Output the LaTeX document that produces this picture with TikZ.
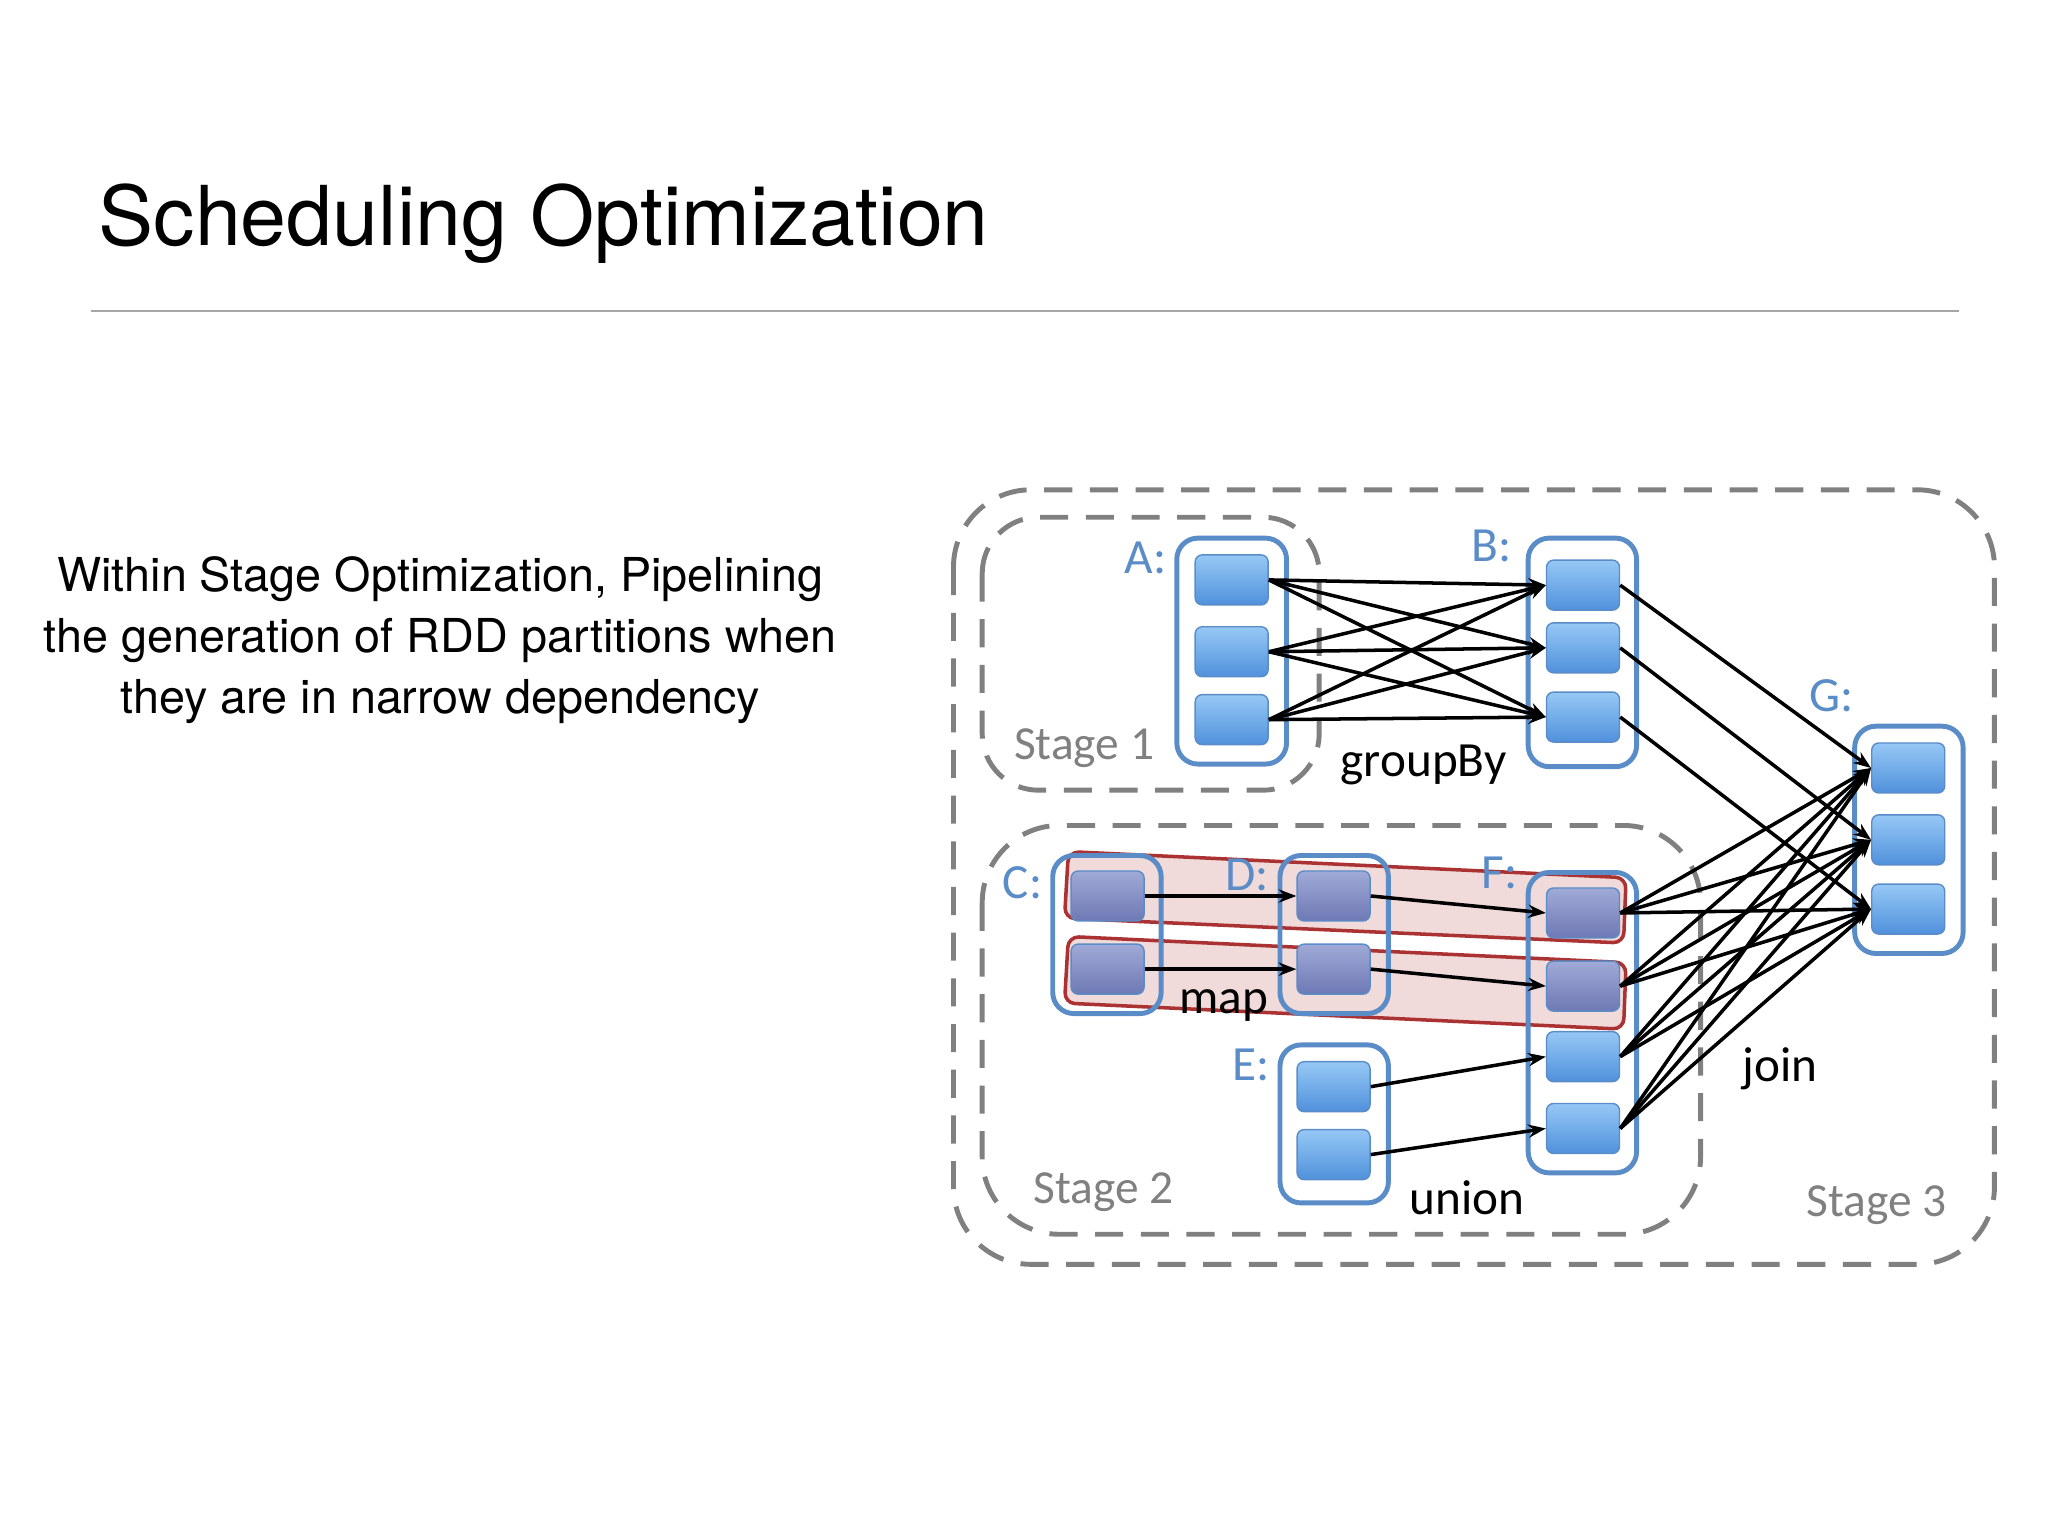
\documentclass[tikz,border=0pt]{standalone}
\usepackage{fontspec}
\setmainfont{TeX Gyre Heros}
\newfontfamily\lblfont{Carlito}
\usetikzlibrary{arrows.meta}
\definecolor{cbox}{RGB}{90,140,200}
\definecolor{ctop}{RGB}{150,200,245}
\definecolor{cbot}{RGB}{80,145,220}
\definecolor{ptop}{RGB}{160,170,215}
\definecolor{pbot}{RGB}{110,120,180}
\definecolor{cred}{RGB}{170,50,50}
\tikzset{
  part/.style={draw=cbox,rounded corners=2pt,minimum width=0.73cm,minimum height=0.5cm,inner sep=0pt,top color=ctop,bottom color=cbot},
  ppart/.style={part,top color=ptop,bottom color=pbot},
  rdd/.style={draw=cbox,line width=1.4pt,rounded corners=6pt},
  stage/.style={draw=gray,line width=1.4pt,dash pattern=on 8pt off 5pt,rounded corners=22pt},
  lbl/.style={font=\lblfont\fontsize{14}{14}\selectfont,text=cbox},
  op/.style={font=\lblfont\fontsize{14}{14}\selectfont},
  st/.style={font=\lblfont\fontsize{13.5}{14}\selectfont,text=gray},
  dep/.style={-{Stealth[length=5pt]},line width=1pt},
}
\begin{document}
\begin{tikzpicture}[x=0.01306cm,y=-0.01306cm]
	\useasboundingbox (0,0) rectangle (1568,1176);
	\node[anchor=base west,inner sep=0pt,font=\fontsize{23.5}{24}\selectfont] (title) at (75,188) {Scheduling Optimization};
	\draw[gray!70] (70,238) -- (1500,238);
	\node[align=center,font=\fontsize{13.3}{17.3}\selectfont] (text) at (337,490) {Within Stage Optimization, Pipelining\\the generation of RDD partitions when\\they are in narrow dependency};

	% stages
	\draw[stage] (730,375) rectangle (1527,968);
	\draw[stage,rounded corners=16pt] (752,396) rectangle (1010,605);
	\draw[stage] (752,632) rectangle (1302,945);
	\node[st] (s1) at (830,573) {Stage 1};
	\node[st] (s2) at (845,913) {Stage 2};
	\node[st] (s3) at (1437,923) {Stage 3};

	% pipelines
	\draw[cred,fill=cred!18,line width=1pt,rounded corners=3pt] (818,652) -- (1245,672) -- (1243,722) -- (815,703) -- cycle;
	\draw[cred,fill=cred!18,line width=1pt,rounded corners=3pt] (818,717) -- (1245,737) -- (1243,788) -- (815,768) -- cycle;

	% rdds
	\draw[rdd] (901,412) rectangle (985,585);
	\draw[rdd] (1170,412) rectangle (1253,587);
	\draw[rdd] (1420,556) rectangle (1503,730);
	\draw[rdd] (806,655) rectangle (889,776);
	\draw[rdd] (980,655) rectangle (1063,776);
	\draw[rdd] (1170,668) rectangle (1253,898);
	\draw[rdd] (980,800) rectangle (1063,921);

	\foreach \n/\y in {1/444,2/499,3/551} \node[part] (a\n) at (943,\y) {};
	\foreach \n/\y in {1/448,2/496,3/549} \node[part] (b\n) at (1212,\y) {};
	\foreach \n/\y in {1/588,2/643,3/696} \node[part] (g\n) at (1461,\y) {};
	\foreach \n/\y in {1/686,2/742} \node[ppart] (c\n) at (848,\y) {};
	\foreach \n/\y in {1/686,2/742} \node[ppart] (d\n) at (1021,\y) {};
	\foreach \n/\y in {1/699,2/755} \node[ppart] (f\n) at (1212,\y) {};
	\foreach \n/\y in {3/809,4/864} \node[part] (f\n) at (1212,\y) {};
	\foreach \n/\y in {1/832,2/884} \node[part] (e\n) at (1021,\y) {};

	% labels
	\node[lbl] (la) at (877,427) {A:};
	\node[lbl] (lb) at (1142,418) {B:};
	\node[lbl] (lg) at (1402,533) {G:};
	\node[lbl] (lc) at (783,676) {C:};
	\node[lbl] (ld) at (955,670) {D:};
	\node[lbl] (lf) at (1148,668) {F:};
	\node[lbl] (le) at (958,815) {E:};
	\node[op] (gb) at (1090,586) {groupBy};
	\node[op] (mp) at (937,770) {map};
	\node[op] (un) at (1123,917) {union};
	\node[op] (jn) at (1363,818) {join};

	% dependencies
	\foreach \i in {1,2,3} \foreach \j in {1,2,3} \draw[dep] (a\i.east) -- (b\j.west);
	\foreach \i in {1,2,3} \draw[dep] (b\i.east) -- (g\i.west);
	\foreach \i in {1,2,3,4} \foreach \j in {1,2,3} \draw[dep] (f\i.east) -- (g\j.west);
	\foreach \i in {1,2} {
		\draw[dep] (c\i.east) -- (d\i.west);
		\draw[dep] (d\i.east) -- (f\i.west);
	}
	\draw[dep] (e1.east) -- (f3.west);
	\draw[dep] (e2.east) -- (f4.west);
\end{tikzpicture}
\end{document}
